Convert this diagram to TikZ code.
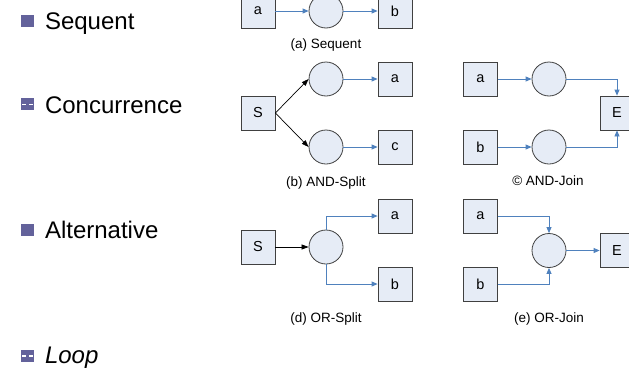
\documentclass[tikz,border=0pt]{standalone}
\usepackage{fontspec}
\setmainfont{Liberation Sans}
\usetikzlibrary{arrows.meta}
\definecolor{boxfill}{RGB}{230,236,246}
\definecolor{boxline}{RGB}{64,64,64}
\definecolor{flow}{RGB}{79,129,189}
\definecolor{bullet}{RGB}{99,98,155}
\tikzset{
  task/.style={draw=boxline, fill=boxfill, line width=0.8pt, minimum width=34pt, minimum height=34pt, inner sep=0pt, font=\fontsize{14.5}{16}\selectfont},
  place/.style={circle, draw=boxline, fill=boxfill, line width=0.8pt, minimum size=34pt, inner sep=0pt},
  bluearr/.style={draw=flow, line width=0.8pt, -{Triangle[length=6pt,width=5pt]}},
  blackarr/.style={draw=black, line width=0.7pt, -{Triangle[length=7pt,width=5pt]}},
  caption/.style={anchor=base, font=\fontsize{13.5}{16}\selectfont},
  item/.style={anchor=base west, font=\fontsize{24}{28}\selectfont},
  solidbullet/.style={fill=bullet, draw=none, minimum width=13pt, minimum height=12pt, inner sep=0pt},
}
\begin{document}
\begin{tikzpicture}[x=1pt,y=-1pt]
\useasboundingbox (0,0) rectangle (629,370);

% left list
\node[solidbullet] (b1) at (27.3,20.5) {};
\node[item] (t1) at (41.5,29.3) {Sequent};
\node[solidbullet] (b2) at (27.3,104.3) {};
\draw[white, line width=1.2pt] ([xshift=1.5pt]b2.west) -- ([xshift=-1.5pt]b2.center);
\draw[white, line width=1.2pt] ([xshift=1.5pt]b2.center) -- ([xshift=-1.5pt]b2.east);
\node[item] (t2) at (41.5,113) {Concurrence};
\node[solidbullet] (b3) at (27.3,230) {};
\node[item] (t3) at (41.5,238.3) {Alternative};
\node[solidbullet] (b4) at (27.3,356) {};
\draw[white, line width=1.2pt] ([xshift=1.5pt]b4.west) -- ([xshift=-1.5pt]b4.center);
\draw[white, line width=1.2pt] ([xshift=1.5pt]b4.center) -- ([xshift=-1.5pt]b4.east);
\node[item] (t4) at (41.5,363.3) {\itshape Loop};

% (a) Sequent
\node[task] (sa) at (258,11) {a};
\node[place] (sc) at (326,11) {};
\node[task] (sb) at (395,11) {b};
\draw[bluearr] (sa) -- (sc);
\draw[bluearr] (sc) -- (sb);
\node[caption] (capa) at (326,48.5) {(a) Sequent};

% (b) AND-Split
\node[task] (S1) at (258,113) {S};
\node[place] (c1) at (326,79) {};
\node[place] (c2) at (326,147) {};
\node[task] (a1) at (395,79) {a};
\node[task] (cc1) at (395,147) {c};
\draw[blackarr] (S1.east) -- (c1.west);
\draw[blackarr] (S1.east) -- (c2.west);
\draw[bluearr] (c1) -- (a1);
\draw[bluearr] (c2) -- (cc1);
\node[caption] (capb) at (326,186.5) {(b) AND-Split};

% (c) AND-Join
\node[task] (ja) at (480.5,79) {a};
\node[task] (jb) at (480.5,147) {b};
\node[place] (jc1) at (549,79) {};
\node[place] (jc2) at (549,147) {};
\node[task] (jE) at (617,113) {E};
\draw[bluearr] (ja) -- (jc1);
\draw[bluearr] (jb) -- (jc2);
\draw[bluearr] (jc1.east) -| (jE.north);
\draw[bluearr] (jc2.east) -| (jE.south);
\node[caption] (capc) at (548,185.7) {© AND-Join};

% (d) OR-Split
\node[task] (S2) at (258,247) {S};
\node[place] (oc) at (326,247) {};
\node[task] (oa) at (395,216) {a};
\node[task] (ob) at (395,284) {b};
\draw[blackarr] (S2) -- (oc);
\draw[bluearr] (oc.north) |- (oa.west);
\draw[bluearr] (oc.south) |- (ob.west);
\node[caption] (capd) at (326,322.7) {(d) OR-Split};

% (e) OR-Join
\node[task] (ra) at (480.5,216) {a};
\node[task] (rb) at (480.5,284) {b};
\node[place] (rc) at (549,250.5) {};
\node[task] (rE) at (617,250.5) {E};
\draw[bluearr] (ra.east) -| (rc.north);
\draw[bluearr] (rb.east) -| (rc.south);
\draw[bluearr] (rc) -- (rE);
\node[caption] (cape) at (549,322.5) {(e) OR-Join};
\end{tikzpicture}
\end{document}
